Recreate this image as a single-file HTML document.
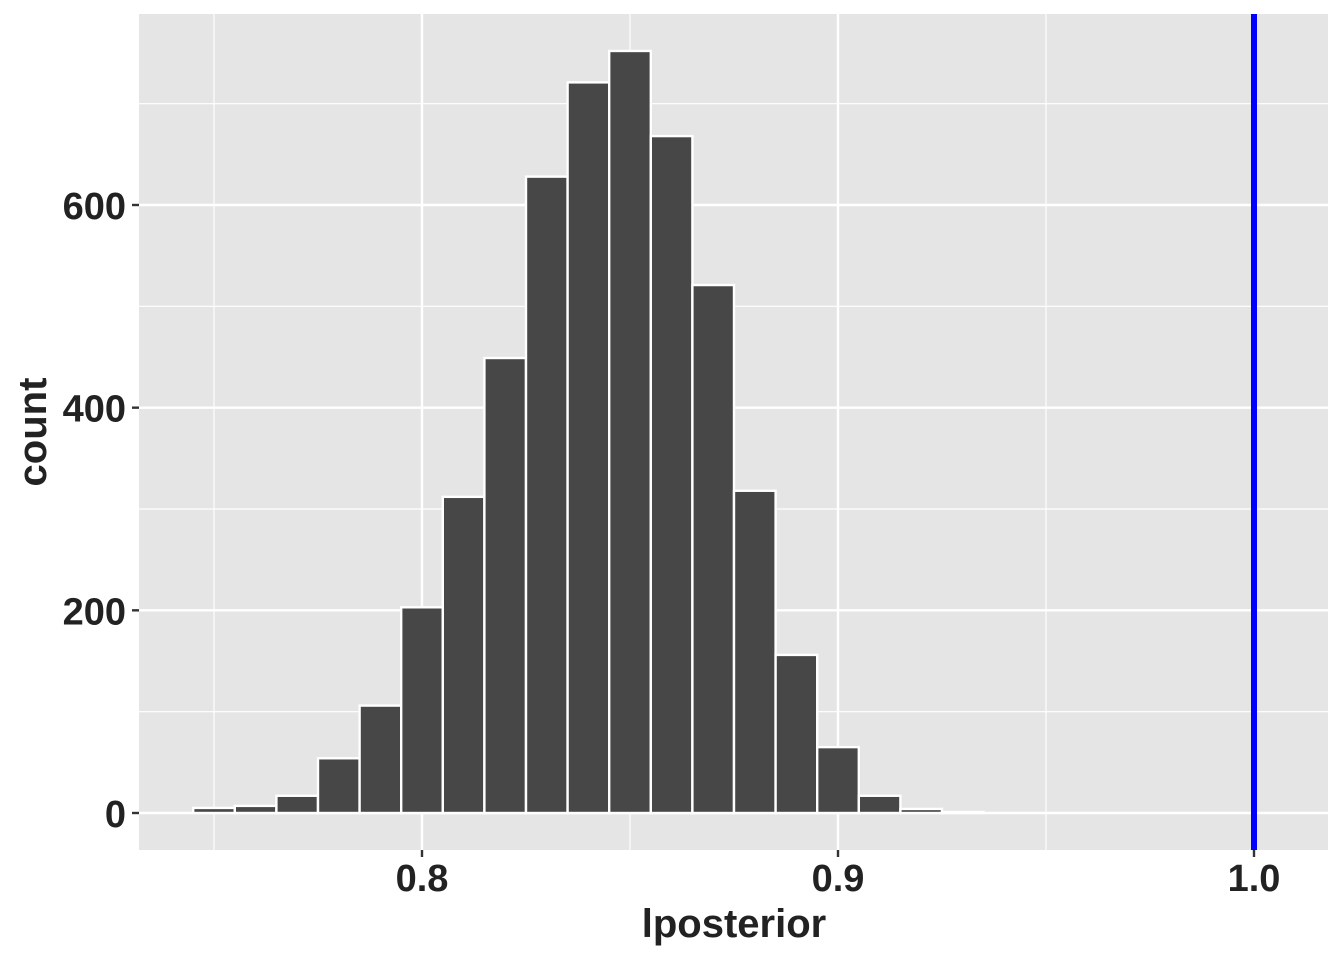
<!DOCTYPE html>
<html><head><meta charset="utf-8"><style>
body{margin:0;background:#fff}
svg text{font-family:"Liberation Sans",Arial,sans-serif;font-weight:bold;fill:#222}
</style></head><body>
<svg width="1344" height="960">
<rect x="139" y="14" width="1189" height="836" fill="#e5e5e5"/>
<g id="grid"></g><g id="bars"></g><g id="axes"></g>
<text x="734" y="937" font-size="40" text-anchor="middle">lposterior</text>
<text transform="translate(46,432) rotate(-90)" font-size="40" text-anchor="middle">count</text>
</svg>
<script>
const binCenters=[0.75,0.76,0.77,0.78,0.79,0.80,0.81,0.82,0.83,0.84,0.85,0.86,0.87,0.88,0.89,0.90,0.91,0.92,0.93];
const counts=[5,7,17,54,106,203,312,449,628,721,752,668,521,318,156,65,17,4,1];
const xTicks=[0.8,0.9,1.0];
const xTickLabels=["0.8","0.9","1.0"];
const xMinor=[0.75,0.85,0.95];
const yTicks=[0,200,400,600];
const yMinor=[100,300,500,700];
const refLine=[1.0];
const binWidth=0.01;
const NS="http://www.w3.org/2000/svg";
const X=v=>422+(v-0.8)*4160;
const Y=v=>813-v*608/600;
function mk(tag,attrs,parent){const e=document.createElementNS(NS,tag);for(const k in attrs)e.setAttribute(k,attrs[k]);document.getElementById(parent).appendChild(e);return e;}
xMinor.forEach(v=>{const e=mk('line',{x1:X(v),x2:X(v),y1:14,y2:850,stroke:'#fff','stroke-width':1.2},'grid');

});
yMinor.forEach(v=>{const e=mk('line',{x1:139,x2:1328,y1:Y(v),y2:Y(v),stroke:'#fff','stroke-width':1.2},'grid');

});
xTicks.forEach((v,i)=>{const e=mk('line',{x1:X(v),x2:X(v),y1:14,y2:850,stroke:'#fff','stroke-width':2.4},'grid');


const t=mk('line',{x1:X(v),x2:X(v),y1:850,y2:857,stroke:'#333','stroke-width':2.4},'axes');


const l=mk('text',{x:X(v),y:891,'font-size':38,'text-anchor':'middle'},'axes');l.textContent=xTickLabels[i];

});
yTicks.forEach(v=>{const e=mk('line',{x1:139,x2:1328,y1:Y(v),y2:Y(v),stroke:'#fff','stroke-width':2.4},'grid');


const t=mk('line',{x1:132,x2:139,y1:Y(v),y2:Y(v),stroke:'#333','stroke-width':2.4},'axes');


const l=mk('text',{x:126,y:Y(v)+14,'font-size':38,'text-anchor':'end'},'axes');l.textContent=v;

});
binCenters.forEach((c,i)=>{const x0=X(c-binWidth/2),x1=X(c+binWidth/2);
const b=mk('rect',{x:x0,y:Y(counts[i]),width:x1-x0,height:Y(0)-Y(counts[i]),fill:'#474747',stroke:'#fff','stroke-width':2.4},'bars');

});
refLine.forEach(v=>{const e=mk('line',{x1:X(v),x2:X(v),y1:14,y2:850,stroke:'#0000ff','stroke-width':6},'bars');

});
</script>
</body></html>
